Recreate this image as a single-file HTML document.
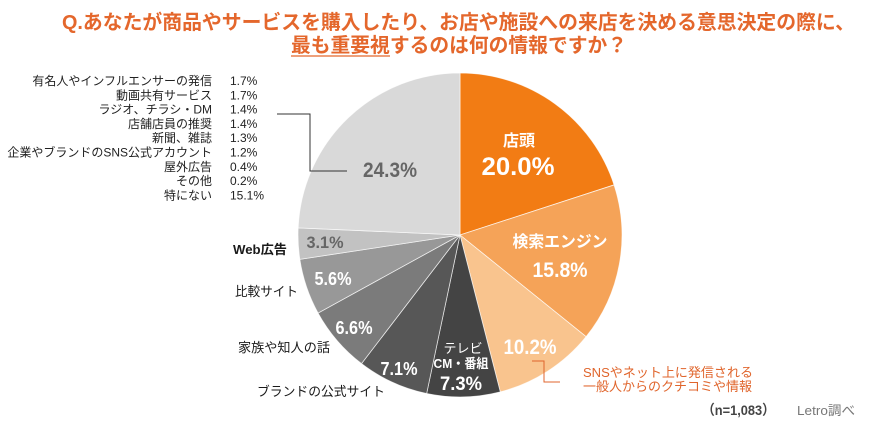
<!DOCTYPE html>
<html>
<head>
<meta charset="utf-8">
<style>
html,body{margin:0;padding:0;background:#fff;}
svg{display:block;}
text{font-family:"Liberation Sans","Noto Sans CJK JP",sans-serif;}
</style>
</head>
<body>
<svg width="889" height="432" viewBox="0 0 889 432" xmlns="http://www.w3.org/2000/svg">
  <rect width="889" height="432" fill="#fff"/>
  <!-- Title -->
  <text x="62" y="29" font-size="20" font-weight="bold" fill="#E4672C" textLength="793" lengthAdjust="spacingAndGlyphs">Q.あなたが商品やサービスを購入したり、お店や施設への来店を決める意思決定の際に、</text>
  <text x="291" y="52" font-size="20" font-weight="bold" fill="#E4672C" textLength="336" lengthAdjust="spacingAndGlyphs">最も重要視するのは何の情報ですか？</text>
  <line x1="291" y1="56" x2="390" y2="56" stroke="#E4672C" stroke-width="1.3"/>

  <!-- Legend list -->
  <g font-size="12" fill="#222">
    <g text-anchor="end">
      <text x="212" y="85">有名人やインフルエンサーの発信</text>
      <text x="212" y="99.3">動画共有サービス</text>
      <text x="212" y="113.6">ラジオ、チラシ・DM</text>
      <text x="212" y="127.9">店舗店員の推奨</text>
      <text x="212" y="142.2">新聞、雑誌</text>
      <text x="212" y="156.5">企業やブランドのSNS公式アカウント</text>
      <text x="212" y="170.8">屋外広告</text>
      <text x="212" y="185.1">その他</text>
      <text x="212" y="199.4">特にない</text>
    </g>
    <text x="230" y="85">1.7%</text>
    <text x="230" y="99.3">1.7%</text>
    <text x="230" y="113.6">1.4%</text>
    <text x="230" y="127.9">1.4%</text>
    <text x="230" y="142.2">1.3%</text>
    <text x="230" y="156.5">1.2%</text>
    <text x="230" y="170.8">0.4%</text>
    <text x="230" y="185.1">0.2%</text>
    <text x="230" y="199.4">15.1%</text>
  </g>

  <!-- Pie -->
  <g stroke="#ffffff" stroke-width="0.8" stroke-opacity="0.75">
    <path d="M460,235 L460,73 A162,162 0 0 1 614.07,184.94 Z" fill="#F27C14"/>
    <path d="M460,235 L614.07,184.94 A162,162 0 0 1 586.11,336.68 Z" fill="#F5A358"/>
    <path d="M460,235 L586.11,336.68 A162,162 0 0 1 500.29,391.91 Z" fill="#F9C48E"/>
    <path d="M460,235 L500.29,391.91 A162,162 0 0 1 426.65,393.53 Z" fill="#444444"/>
    <path d="M460,235 L426.65,393.53 A162,162 0 0 1 361.51,363.62 Z" fill="#575757"/>
    <path d="M460,235 L361.51,363.62 A162,162 0 0 1 318.04,313.04 Z" fill="#7B7B7B"/>
    <path d="M460,235 L318.04,313.04 A162,162 0 0 1 299.84,259.34 Z" fill="#989898"/>
    <path d="M460,235 L299.84,259.34 A162,162 0 0 1 298.16,227.88 Z" fill="#C2C2C2"/>
    <path d="M460,235 L298.16,227.88 A162,162 0 0 1 460,73 Z" fill="#D9D9D9"/>
  </g>

  <!-- Legend connector -->
  <polyline points="277,114 310,114 310,171 347,171" fill="none" stroke="#333" stroke-width="1"/>

  <!-- In-pie labels -->
  <g font-weight="bold" text-anchor="middle" fill="#fff">
    <text x="519" y="146" font-size="16">店頭</text>
    <text x="518" y="175" font-size="25" textLength="73" lengthAdjust="spacingAndGlyphs">20.0%</text>
    <text x="560" y="247" font-size="16" textLength="95" lengthAdjust="spacingAndGlyphs">検索エンジン</text>
    <text x="560" y="277" font-size="21" textLength="55" lengthAdjust="spacingAndGlyphs">15.8%</text>
    <text x="530" y="354" font-size="21" textLength="53" lengthAdjust="spacingAndGlyphs">10.2%</text>
    <text x="463" y="353" font-size="13" font-weight="normal">テレビ</text>
    <text x="461" y="368" font-size="13" textLength="55" lengthAdjust="spacingAndGlyphs">CM・番組</text>
    <text x="461" y="390" font-size="19" textLength="42" lengthAdjust="spacingAndGlyphs">7.3%</text>
    <text x="399" y="375" font-size="18" textLength="37" lengthAdjust="spacingAndGlyphs">7.1%</text>
    <text x="354" y="334" font-size="18" textLength="37" lengthAdjust="spacingAndGlyphs">6.6%</text>
    <text x="333" y="285" font-size="18" textLength="37" lengthAdjust="spacingAndGlyphs">5.6%</text>
    <text x="325" y="248" font-size="17" fill="#666" textLength="37" lengthAdjust="spacingAndGlyphs">3.1%</text>
    <text x="390" y="177" font-size="21" fill="#666" textLength="54" lengthAdjust="spacingAndGlyphs">24.3%</text>
  </g>

  <!-- Outside labels -->
  <g font-size="13" fill="#1a1a1a">
    <text x="233" y="254" font-weight="bold" textLength="54" lengthAdjust="spacingAndGlyphs">Web広告</text>
    <text x="235" y="296" textLength="63" lengthAdjust="spacingAndGlyphs">比較サイト</text>
    <text x="238" y="352" textLength="92" lengthAdjust="spacingAndGlyphs">家族や知人の話</text>
    <text x="257" y="396" textLength="128" lengthAdjust="spacingAndGlyphs">ブランドの公式サイト</text>
  </g>

  <!-- SNS label -->
  <polyline points="532,361 544,361 544,382 560,382" fill="none" stroke="#E0652C" stroke-width="1"/>
  <g font-size="13" fill="#E0652C">
    <text x="583" y="377" textLength="170" lengthAdjust="spacingAndGlyphs">SNSやネット上に発信される</text>
    <text x="583" y="391" textLength="169" lengthAdjust="spacingAndGlyphs">一般人からのクチコミや情報</text>
  </g>

  <!-- Footer -->
  <text x="702" y="415" font-size="14" font-weight="bold" fill="#444" textLength="73" lengthAdjust="spacingAndGlyphs">（n=1,083）</text>
  <text x="797" y="415" font-size="13" fill="#777" textLength="58" lengthAdjust="spacingAndGlyphs">Letro調べ</text>
</svg>
</body>
</html>
